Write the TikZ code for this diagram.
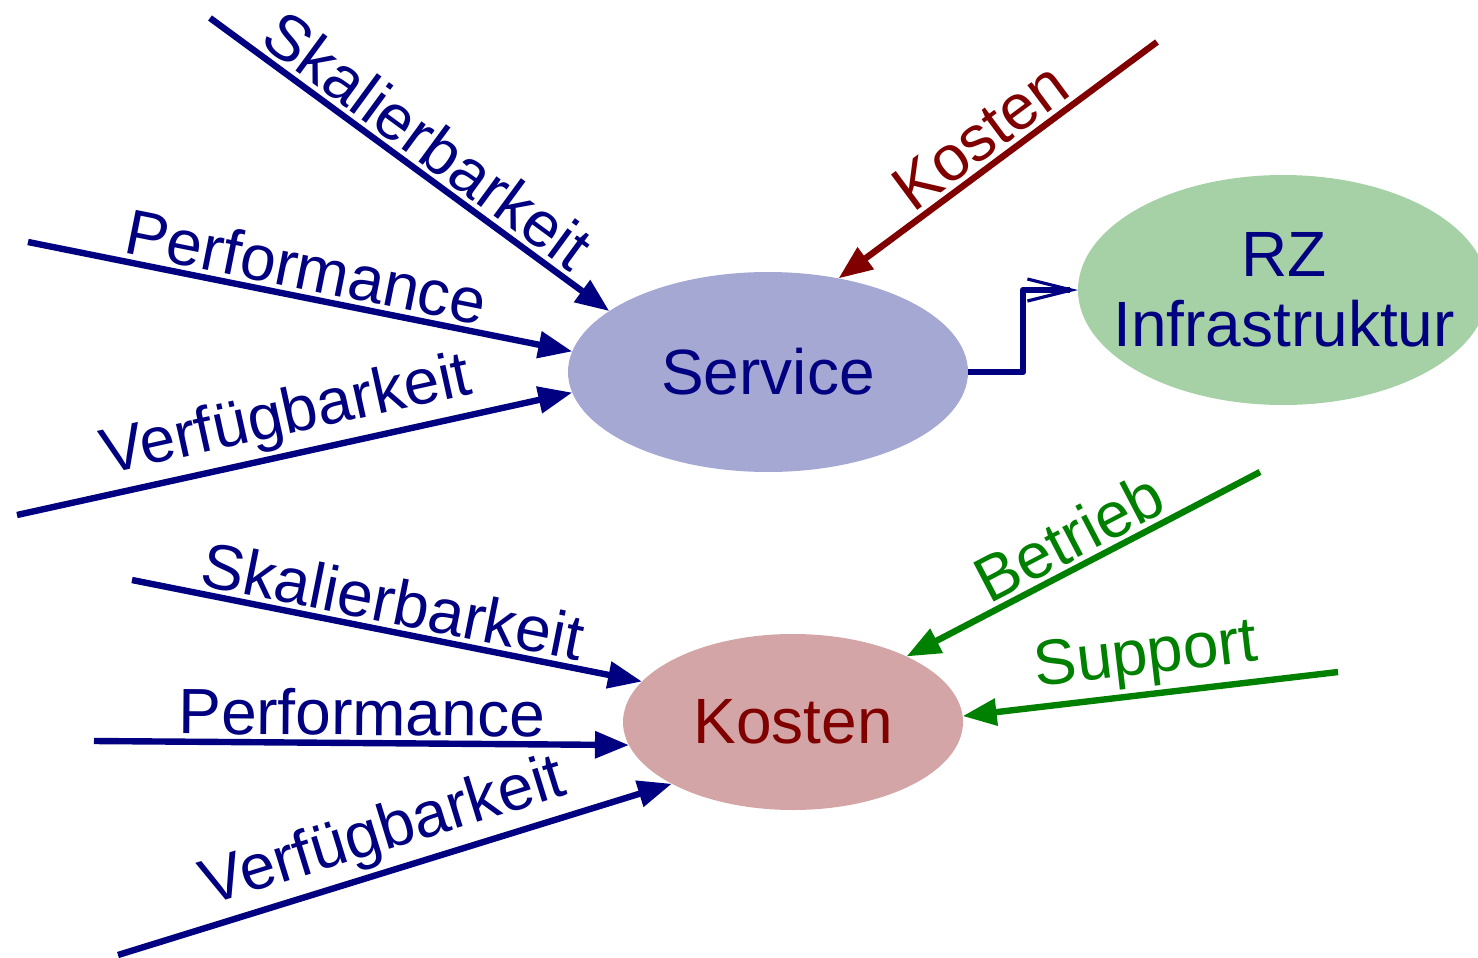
\documentclass[tikz,border=0pt]{standalone}
\usepackage{fontspec}
\setmainfont{Liberation Sans}
\usetikzlibrary{arrows.meta,shapes.geometric}
\definecolor{navyblue}{RGB}{0,0,128}
\definecolor{darkred}{RGB}{128,0,0}
\definecolor{darkgreen}{RGB}{0,128,0}
\definecolor{svcfill}{RGB}{165,168,210}
\definecolor{rzfill}{RGB}{166,209,166}
\definecolor{kstfill}{RGB}{211,165,166}
\tikzset{
  bubble/.style={ellipse, inner sep=0pt, outer sep=0pt, font=\fontsize{32}{35}\selectfont},
  flow/.style={line width=3.2pt, -{Triangle[length=17pt,width=13pt]}},
  tag/.style={sloped, above, inner sep=2pt, font=\fontsize{32}{35}\selectfont, pos=0.5},
}
\begin{document}
\begin{tikzpicture}[x=0.5pt, y=-0.5pt]
\useasboundingbox (0,0) rectangle (1478,958);
\clip (0,0) rectangle (1478,958);

% goals feeding the service
\node[bubble, fill=svcfill, minimum width=200pt, minimum height=100pt, text=navyblue] (svc) at (768,372) {Service};
\node[bubble, fill=rzfill, minimum width=205pt, minimum height=115pt] (rz) at (1283,290) {};
\node[align=center, text=navyblue, inner sep=0pt, font=\fontsize{32}{35}\selectfont] (rzt) at (1284,290) {RZ\\Infrastruktur};
\node[bubble, fill=kstfill, minimum width=170pt, minimum height=88pt, text=darkred] (kst) at (793,722) {Kosten};

% free ends of the incoming arrows
\coordinate (a1) at (210,18);
\coordinate (a2) at (28,242);
\coordinate (a3) at (17,515);
\coordinate (a4) at (1157,42);
\coordinate (b1) at (132,580);
\coordinate (b2) at (94,741);
\coordinate (b3) at (118,955);
\coordinate (b4) at (1260,472);
\coordinate (b5) at (1338,672);

\draw[flow, navyblue] (a1) -- node[tag, text=navyblue] (la1) {Skalierbarkeit} (svc.159);
\draw[flow, navyblue] (a2) -- node[tag, text=navyblue] (la2) {Performance} (svc.174);
\draw[flow, navyblue] (a3) -- node[tag, text=navyblue] (la3) {Verfügbarkeit} (svc.186);
\draw[flow, darkred] (a4) -- node[tag, text=darkred] (la4) {Kosten} (svc.53);

% service runs on the data centre infrastructure
\draw[navyblue, line width=3.2pt, line join=round, -{Straight Barb[length=22pt,width=11pt,line width=1.6pt]}]
  (svc.east) -- ++(55,0) |- (rz.west);

% drivers of cost
\draw[flow, navyblue] (b1) -- node[tag, text=navyblue] (lb1) {Skalierbarkeit} (kst.165);
\draw[flow, navyblue] (b2) -- node[tag, text=navyblue] (lb2) {Performance} (kst.188);
\draw[flow, navyblue] (b3) -- node[tag, text=navyblue] (lb3) {Verfügbarkeit} (kst.207);
\draw[flow, darkgreen] (b4) -- node[tag, text=darkgreen] (lb4) {Betrieb} (kst.30);
\draw[flow, darkgreen] (b5) -- node[tag, text=darkgreen] (lb5) {Support} (kst.2);
\end{tikzpicture}
\end{document}
